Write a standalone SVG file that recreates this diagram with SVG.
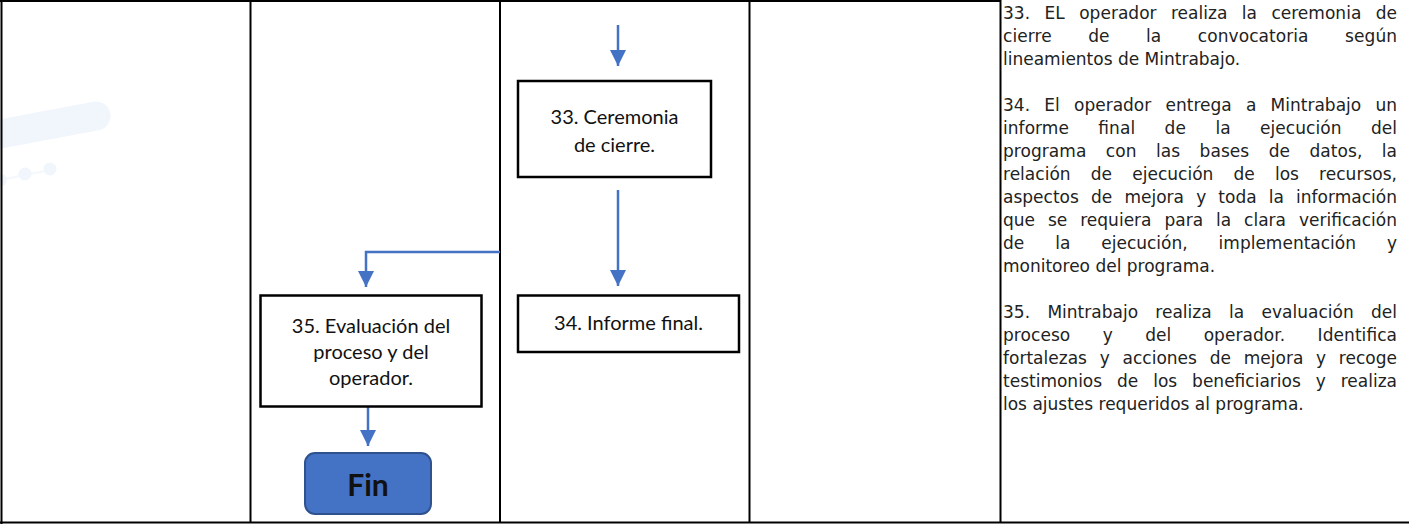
<svg xmlns="http://www.w3.org/2000/svg" width="1409" height="524" viewBox="0 0 1409 524">
<style>
.grid{stroke:#000;stroke-width:2;fill:none}
.box{fill:#fff;stroke:#000;stroke-width:2.5}
.bt{font-family:Lato,"Liberation Sans",sans-serif;font-size:20px;fill:#111;text-anchor:middle}
.fin{font-family:Lato,"Liberation Sans",sans-serif;font-size:30px;font-weight:bold;fill:#111;text-anchor:middle}
.con{stroke:#4472C4;stroke-width:2.5;fill:none}
.rt{font-family:"DejaVu Sans","Liberation Sans",sans-serif;font-size:17px;fill:#222}
</style>
<defs>
<marker id="ah" viewBox="0 0 10 10" refX="10" refY="5" markerWidth="6.4" markerHeight="6.4" markerUnits="strokeWidth" orient="auto">
<path d="M0,0 L10,5 L0,10 Z" fill="#4472C4"/>
</marker>
</defs>
<rect x="0" y="0" width="1409" height="524" fill="#fff"/>
<g id="watermark" opacity="1">
<line x1="-10" y1="136" x2="96" y2="116" stroke="#F1F5FC" stroke-width="29" stroke-linecap="round"/>
<line x1="0" y1="180" x2="50" y2="170" stroke="#F4F7FC" stroke-width="2"/>
<circle cx="50" cy="169" r="6.5" fill="#F1F5FC"/>
<circle cx="25" cy="174" r="6.5" fill="#F1F5FC"/>
<circle cx="1" cy="180" r="6" fill="#F1F5FC"/>
</g>
<g id="grid">
<line class="grid" x1="0" y1="1" x2="1000" y2="1"/>
<line class="grid" x1="0" y1="522.5" x2="1409" y2="522.5"/>
<line class="grid" x1="1.5" y1="0" x2="1.5" y2="524"/>
<line class="grid" x1="250.5" y1="0" x2="250.5" y2="523"/>
<line class="grid" x1="500" y1="0" x2="500" y2="523"/>
<line class="grid" x1="749.5" y1="0" x2="749.5" y2="523"/>
<line class="grid" x1="1000.5" y1="0" x2="1000.5" y2="523" stroke-width="2.5"/>
</g>
<g id="connectors">
<line class="con" x1="618" y1="25" x2="618" y2="66" marker-end="url(#ah)"/>
<line class="con" x1="618" y1="190" x2="618" y2="286" marker-end="url(#ah)"/>
<polyline class="con" points="500,252 366,252 366,287" marker-end="url(#ah)"/>
<line class="con" x1="368" y1="407" x2="368" y2="446" marker-end="url(#ah)"/>
</g>
<g id="n33">
<rect class="box" x="518" y="81" width="193" height="96"/>
<text class="bt" x="614.5" y="124">33. Ceremonia</text>
<text class="bt" x="614.5" y="152">de cierre.</text>
</g>
<g id="n34">
<rect class="box" x="518" y="295.5" width="221" height="56.5"/>
<text class="bt" x="628.5" y="330">34. Informe final.</text>
</g>
<g id="n35">
<rect class="box" x="260.5" y="295.5" width="221" height="111"/>
<text class="bt" x="371" y="333">35. Evaluación del</text>
<text class="bt" x="371" y="359">proceso y del</text>
<text class="bt" x="371" y="385">operador.</text>
</g>
<g id="fin">
<rect x="305" y="453" width="126" height="61" rx="10" ry="10" fill="#4472C4" stroke="#2F528F" stroke-width="2"/>
<text class="fin" x="368" y="496">Fin</text>
</g>
<g id="description">
<text class="rt" x="1003" y="19" textLength="394" lengthAdjust="spacing" style="word-spacing:9px">33. EL operador realiza la ceremonia de</text>
<text class="rt" x="1003" y="42" textLength="394" lengthAdjust="spacing" style="word-spacing:31px">cierre de la convocatoria según</text>
<text class="rt" x="1003" y="65">lineamientos de Mintrabajo.</text>
<text class="rt" x="1003" y="111" textLength="394" lengthAdjust="spacing" style="word-spacing:8.8px">34. El operador entrega a Mintrabajo un</text>
<text class="rt" x="1003" y="134" textLength="394" lengthAdjust="spacing" style="word-spacing:24px">informe final de la ejecución del</text>
<text class="rt" x="1003" y="157" textLength="394" lengthAdjust="spacing" style="word-spacing:14px">programa con las bases de datos, la</text>
<text class="rt" x="1003" y="180" textLength="394" lengthAdjust="spacing" style="word-spacing:14.7px">relación de ejecución de los recursos,</text>
<text class="rt" x="1003" y="203" textLength="394" lengthAdjust="spacing" style="word-spacing:6.7px">aspectos de mejora y toda la información</text>
<text class="rt" x="1003" y="226" textLength="394" lengthAdjust="spacing" style="word-spacing:7.5px">que se requiera para la clara verificación</text>
<text class="rt" x="1003" y="249" textLength="394" lengthAdjust="spacing" style="word-spacing:25.5px">de la ejecución, implementación y</text>
<text class="rt" x="1003" y="272">monitoreo del programa.</text>
<text class="rt" x="1003" y="318" textLength="394" lengthAdjust="spacing" style="word-spacing:11.9px">35. Mintrabajo realiza la evaluación del</text>
<text class="rt" x="1003" y="341" textLength="394" lengthAdjust="spacing" style="word-spacing:26.9px">proceso y del operador. Identifica</text>
<text class="rt" x="1003" y="364" textLength="394" lengthAdjust="spacing" style="word-spacing:7.3px">fortalezas y acciones de mejora y recoge</text>
<text class="rt" x="1003" y="387" textLength="394" lengthAdjust="spacing" style="word-spacing:9.5px">testimonios de los beneficiarios y realiza</text>
<text class="rt" x="1003" y="410">los ajustes requeridos al programa.</text>
</g>
</svg>
